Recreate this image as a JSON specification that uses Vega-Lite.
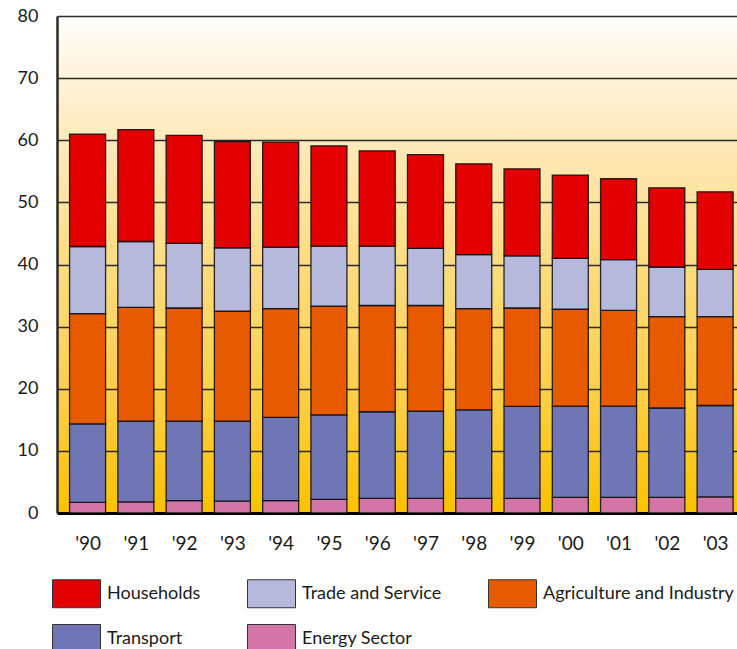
{
  "$schema": "https://vega.github.io/schema/vega-lite/v6.json",
  "width": 680,
  "height": 497,
  "autosize": {"type": "none"},
  "padding": {"left": 57, "top": 16, "right": 0, "bottom": 136},
  "background": "#ffffff",
  "view": {
    "stroke": null,
    "fill": {
      "gradient": "linear",
      "x1": 0, "y1": 0, "x2": 0, "y2": 1,
      "stops": [
        {"offset": 0, "color": "#fffefb"},
        {"offset": 0.125, "color": "#fef3da"},
        {"offset": 0.25, "color": "#fdeabb"},
        {"offset": 0.5, "color": "#fddc80"},
        {"offset": 0.75, "color": "#fccf4a"},
        {"offset": 1, "color": "#fcc200"}
      ]
    }
  },
  "config": {
    "font": "Lato",
    "axis": {"labelColor": "#1a1a1a", "titleColor": "#1a1a1a"},
    "legend": {"labelColor": "#1a1a1a"}
  },
  "data": {
    "values": [
      {"year": 1990, "sector": "Energy Sector", "value": 1.7},
      {"year": 1990, "sector": "Transport", "value": 12.65},
      {"year": 1990, "sector": "Agriculture and Industry", "value": 17.75},
      {"year": 1990, "sector": "Trade and Service", "value": 10.8},
      {"year": 1990, "sector": "Households", "value": 18.1},
      {"year": 1991, "sector": "Energy Sector", "value": 1.8},
      {"year": 1991, "sector": "Transport", "value": 13.0},
      {"year": 1991, "sector": "Agriculture and Industry", "value": 18.3},
      {"year": 1991, "sector": "Trade and Service", "value": 10.6},
      {"year": 1991, "sector": "Households", "value": 18.0},
      {"year": 1992, "sector": "Energy Sector", "value": 2.0},
      {"year": 1992, "sector": "Transport", "value": 12.8},
      {"year": 1992, "sector": "Agriculture and Industry", "value": 18.2},
      {"year": 1992, "sector": "Trade and Service", "value": 10.4},
      {"year": 1992, "sector": "Households", "value": 17.4},
      {"year": 1993, "sector": "Energy Sector", "value": 1.9},
      {"year": 1993, "sector": "Transport", "value": 12.9},
      {"year": 1993, "sector": "Agriculture and Industry", "value": 17.7},
      {"year": 1993, "sector": "Trade and Service", "value": 10.2},
      {"year": 1993, "sector": "Households", "value": 17.1},
      {"year": 1994, "sector": "Energy Sector", "value": 2.0},
      {"year": 1994, "sector": "Transport", "value": 13.4},
      {"year": 1994, "sector": "Agriculture and Industry", "value": 17.5},
      {"year": 1994, "sector": "Trade and Service", "value": 9.9},
      {"year": 1994, "sector": "Households", "value": 16.9},
      {"year": 1995, "sector": "Energy Sector", "value": 2.2},
      {"year": 1995, "sector": "Transport", "value": 13.6},
      {"year": 1995, "sector": "Agriculture and Industry", "value": 17.5},
      {"year": 1995, "sector": "Trade and Service", "value": 9.65},
      {"year": 1995, "sector": "Households", "value": 16.15},
      {"year": 1996, "sector": "Energy Sector", "value": 2.35},
      {"year": 1996, "sector": "Transport", "value": 13.95},
      {"year": 1996, "sector": "Agriculture and Industry", "value": 17.1},
      {"year": 1996, "sector": "Trade and Service", "value": 9.55},
      {"year": 1996, "sector": "Households", "value": 15.35},
      {"year": 1997, "sector": "Energy Sector", "value": 2.35},
      {"year": 1997, "sector": "Transport", "value": 14.05},
      {"year": 1997, "sector": "Agriculture and Industry", "value": 17.0},
      {"year": 1997, "sector": "Trade and Service", "value": 9.2},
      {"year": 1997, "sector": "Households", "value": 15.1},
      {"year": 1998, "sector": "Energy Sector", "value": 2.35},
      {"year": 1998, "sector": "Transport", "value": 14.25},
      {"year": 1998, "sector": "Agriculture and Industry", "value": 16.3},
      {"year": 1998, "sector": "Trade and Service", "value": 8.7},
      {"year": 1998, "sector": "Households", "value": 14.6},
      {"year": 1999, "sector": "Energy Sector", "value": 2.35},
      {"year": 1999, "sector": "Transport", "value": 14.8},
      {"year": 1999, "sector": "Agriculture and Industry", "value": 15.85},
      {"year": 1999, "sector": "Trade and Service", "value": 8.4},
      {"year": 1999, "sector": "Households", "value": 14.0},
      {"year": 2000, "sector": "Energy Sector", "value": 2.5},
      {"year": 2000, "sector": "Transport", "value": 14.7},
      {"year": 2000, "sector": "Agriculture and Industry", "value": 15.6},
      {"year": 2000, "sector": "Trade and Service", "value": 8.2},
      {"year": 2000, "sector": "Households", "value": 13.4},
      {"year": 2001, "sector": "Energy Sector", "value": 2.5},
      {"year": 2001, "sector": "Transport", "value": 14.7},
      {"year": 2001, "sector": "Agriculture and Industry", "value": 15.4},
      {"year": 2001, "sector": "Trade and Service", "value": 8.2},
      {"year": 2001, "sector": "Households", "value": 13.0},
      {"year": 2002, "sector": "Energy Sector", "value": 2.5},
      {"year": 2002, "sector": "Transport", "value": 14.4},
      {"year": 2002, "sector": "Agriculture and Industry", "value": 14.7},
      {"year": 2002, "sector": "Trade and Service", "value": 8.0},
      {"year": 2002, "sector": "Households", "value": 12.75},
      {"year": 2003, "sector": "Energy Sector", "value": 2.6},
      {"year": 2003, "sector": "Transport", "value": 14.7},
      {"year": 2003, "sector": "Agriculture and Industry", "value": 14.3},
      {"year": 2003, "sector": "Trade and Service", "value": 7.6},
      {"year": 2003, "sector": "Households", "value": 12.5}
    ]
  },
  "transform": [
    {
      "calculate": "indexof(['Energy Sector', 'Transport', 'Agriculture and Industry', 'Trade and Service', 'Households'], datum.sector)",
      "as": "stackOrder"
    }
  ],
  "mark": {
    "type": "bar",
    "width": 36,
    "clip": true,
    "stroke": "#111111",
    "strokeWidth": 1.3,
    "strokeOpacity": 0.9
  },
  "encoding": {
    "x": {
      "field": "year",
      "type": "quantitative",
      "scale": {"domain": [1989.47, 2003.35], "nice": false, "zero": false},
      "axis": {
        "title": null,
        "values": [1990, 1991, 1992, 1993, 1994, 1995, 1996, 1997, 1998, 1999, 2000, 2001, 2002, 2003],
        "labelExpr": "\"'\" + substring(toString(datum.value), 2)",
        "labelFontSize": 19,
        "labelPadding": 21,
        "labelFlush": false,
        "labelOverlap": false,
        "ticks": false,
        "grid": false,
        "domain": true,
        "domainColor": "#000000",
        "domainWidth": 3
      }
    },
    "y": {
      "field": "value",
      "type": "quantitative",
      "stack": "zero",
      "scale": {"domain": [0, 80], "nice": false},
      "axis": {
        "title": null,
        "values": [0, 10, 20, 30, 40, 50, 60, 70, 80],
        "labelFontSize": 18,
        "labelPadding": 19,
        "ticks": false,
        "domain": true,
        "domainColor": "#2a2a2a",
        "domainWidth": 2.5,
        "grid": true,
        "gridColor": "#2a2a2a",
        "gridWidth": 1.5,
        "gridOpacity": 1
      }
    },
    "order": {"field": "stackOrder", "type": "quantitative", "sort": "ascending"},
    "color": {
      "field": "sector",
      "type": "nominal",
      "scale": {
        "domain": ["Households", "Trade and Service", "Agriculture and Industry", "Transport", "Energy Sector"],
        "range": ["#e30000", "#b6b9dc", "#e85a00", "#7075b5", "#d475a8"]
      },
      "legend": {
        "title": null,
        "orient": "none",
        "legendX": -5,
        "legendY": 553,
        "direction": "horizontal",
        "columns": 3,
        "symbolType": "M-1,-0.583H1V0.583H-1Z",
        "symbolSize": 2304,
        "symbolStrokeColor": "#333333",
        "symbolStrokeWidth": 1,
        "symbolOpacity": 1,
        "labelFont": "Lato",
        "labelFontSize": 18,
        "labelOffset": 6,
        "labelLimit": 300,
        "columnPadding": 44,
        "rowPadding": 4
      }
    }
  }
}
